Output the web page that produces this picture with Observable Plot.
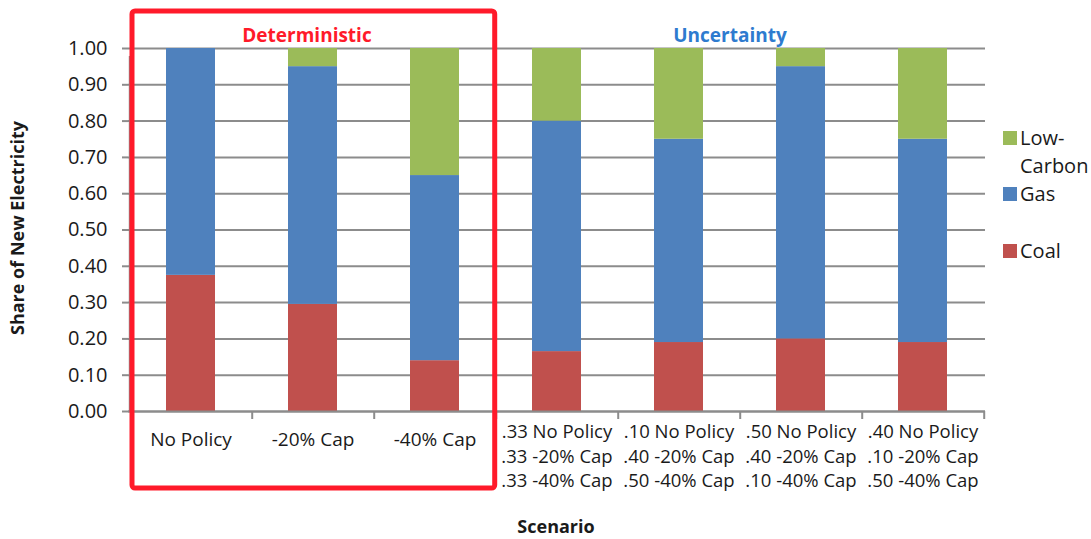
<!DOCTYPE html>
<html>
<head>
<meta charset="utf-8">
<script src="https://cdn.jsdelivr.net/npm/d3@7"></script>
<script src="https://cdn.jsdelivr.net/npm/@observablehq/plot@0.6"></script>
<style>
  html, body { margin: 0; padding: 0; background: #fff; }
  #chart { position: relative; width: 1091px; height: 539px; }
  svg { font-family: "Open Sans", sans-serif; }
</style>
</head>
<body>
<div id="chart"></div>
<script>
// ---- data ----
const scenarios = [
  "No Policy",
  "-20% Cap",
  "-40% Cap",
  ".33 No Policy\n.33 -20% Cap\n.33 -40% Cap",
  ".10 No Policy\n.40 -20% Cap\n.50 -40% Cap",
  ".50 No Policy\n.40 -20% Cap\n.10 -40% Cap",
  ".40 No Policy\n.10 -20% Cap\n.50 -40% Cap"
];
const sources = ["Coal", "Gas", "Low-Carbon"];
const coal      = [0.375, 0.295, 0.14, 0.165, 0.19, 0.20, 0.19];
const gas       = [0.625, 0.655, 0.51, 0.635, 0.56, 0.75, 0.56];
const lowCarbon = [0.00,  0.05,  0.35, 0.20,  0.25, 0.05, 0.25];
const yTicks = [0, 0.1, 0.2, 0.3, 0.4, 0.5, 0.6, 0.7, 0.8, 0.9, 1.0];
const colors = ["#C0504D", "#4F81BD", "#9BBB59"];

const series = [coal, gas, lowCarbon];
const rows = [];
scenarios.forEach((s, i) => {
  sources.forEach((src, j) => rows.push({scenario: s, source: src, value: series[j][i]}));
});

const W = 1091, H = 539;
const mL = 128, mR = 106, mT = 48, mB = 128;
const step = (W - mL - mR) / scenarios.length;
const GRID = "#8c8c8c";
const INK = "#1a1a1a";

const chart = Plot.plot({
  width: W, height: H,
  marginLeft: mL, marginRight: mR, marginTop: mT, marginBottom: mB,
  style: {fontFamily: "'Open Sans', sans-serif", background: "#fff", overflow: "visible"},
  x: {domain: scenarios, paddingInner: 0.6, paddingOuter: 0.3, label: null},
  y: {domain: [0, 1], label: null},
  color: {domain: sources, range: colors},
  marks: [
    Plot.ruleY(yTicks, {stroke: GRID, strokeWidth: 2}),
    Plot.barY(rows, Plot.stackY({x: "scenario", y: "value", fill: "source", order: sources})),
    Plot.axisY({ticks: yTicks, tickFormat: d3.format(".2f"), tickSize: 6, tickPadding: 15,
      stroke: GRID, strokeWidth: 2, fontSize: 20, fill: INK, label: null}),
    Plot.axisX({ticks: scenarios.slice(0, 3), tickSize: 0, tickPadding: 21, fontSize: 19, fill: INK, label: null}),
    Plot.axisX({ticks: scenarios.slice(3), tickSize: 0, tickPadding: 9, fontSize: 18.5, fill: INK, lineHeight: 1.33, label: null}),
    Plot.ruleY([0], {stroke: GRID, strokeWidth: 2}),
    Plot.ruleX(scenarios, {x: d => d, dx: step / 2, y1: 0, y2: 0, stroke: GRID, strokeWidth: 2, insetBottom: -8}),
    Plot.ruleX([scenarios[0]], {x: d => d, dx: -step / 2, y1: 0, y2: 1, stroke: GRID, strokeWidth: 2, insetBottom: -8}),
    Plot.text(["Deterministic"], {x: () => scenarios[1], y: () => 1, text: d => d, fill: "#FF1A2A",
      dy: -13, dx: -6, fontSize: 19, fontWeight: "bold"}),
    Plot.text(["Uncertainty"], {x: () => scenarios[4], y: () => 1, text: d => d, fill: "#2E7BCF",
      dy: -13, dx: 51, fontSize: 19, fontWeight: "bold"})
  ]
});

document.getElementById("chart").appendChild(chart);

const svg = d3.select(chart);
const xs = chart.scale("x");

// red box around deterministic group
const boxLeft = mL + 4;
const boxRight = xs.apply(scenarios[2]) + xs.bandwidth / 2 + step / 2 - 1;
svg.append("rect")
  .attr("x", boxLeft).attr("y", 11)
  .attr("width", boxRight - boxLeft).attr("height", 488 - 11)
  .attr("rx", 3)
  .attr("fill", "none").attr("stroke", "#FF1A2A").attr("stroke-width", 5);

// axis titles
svg.append("text")
  .attr("transform", `translate(24,228) rotate(-90)`)
  .attr("text-anchor", "middle")
  .attr("font-size", 18).attr("font-weight", "bold").attr("fill", INK)
  .text("Share of New Electricity");
svg.append("text")
  .attr("x", 556).attr("y", 533)
  .attr("text-anchor", "middle")
  .attr("font-size", 18).attr("font-weight", "bold").attr("fill", INK)
  .text("Scenario");

// legend
const legendItems = [
  {label: ["Low-", "Carbon"], color: colors[2], y: 131},
  {label: ["Gas"], color: colors[1], y: 187},
  {label: ["Coal"], color: colors[0], y: 244}
];
const lg = svg.append("g").attr("text-anchor", "start");
legendItems.forEach(it => {
  lg.append("rect").attr("x", 1003).attr("y", it.y).attr("width", 14).attr("height", 14).attr("fill", it.color);
  it.label.forEach((t, k) => {
    lg.append("text").attr("x", 1020).attr("y", it.y + 14 + k * 28)
      .attr("font-size", 20).attr("fill", INK).text(t);
  });
});
</script>
</body>
</html>
